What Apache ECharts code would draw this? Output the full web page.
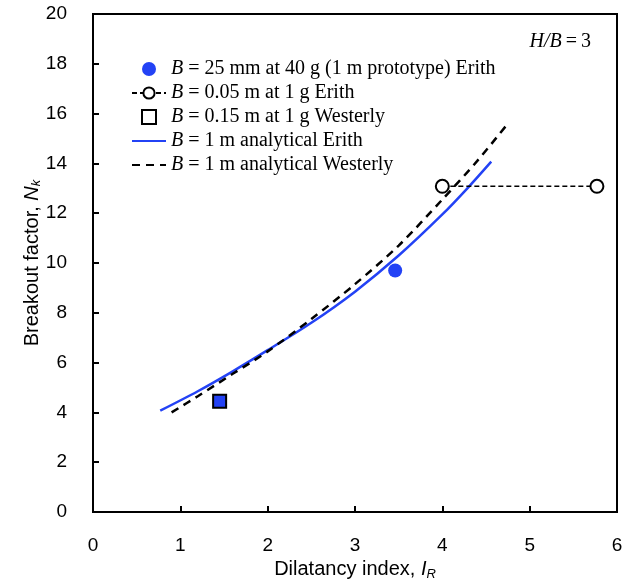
<!DOCTYPE html>
<html>
<head>
<meta charset="utf-8">
<script src="https://cdn.jsdelivr.net/npm/echarts@6/dist/echarts.min.js"></script>
<style>html,body{margin:0;padding:0;background:#fff;}#c{width:633px;height:580px;}</style>
</head>
<body>
<div id="c"></div>
<script>
// Data
const centrifugeErith = [[3.46, 9.7]];                 // B = 25 mm at 40 g (1 m prototype) Erith
const smallErith = [[4.0, 13.08], [5.77, 13.08]];      // B = 0.05 m at 1 g Erith
const westerly015 = [[1.45, 4.45]];                    // B = 0.15 m at 1 g Westerly
const analyticalErithX = [0.77, 1.2, 1.6, 2.0, 2.5, 3.0, 3.5, 4.0, 4.3, 4.56];
const analyticalErithY = [4.07, 4.85, 5.65, 6.5, 7.6, 8.85, 10.3, 11.95, 13.05, 14.07];
const analyticalWestX = [0.9, 1.2, 1.6, 2.0, 2.5, 3.0, 3.5, 4.0, 4.4, 4.75];
const analyticalWestY = [4.0, 4.65, 5.55, 6.45, 7.75, 9.15, 10.7, 12.55, 14.1, 15.6];
const xTicks = [0, 1, 2, 3, 4, 5, 6];
const yTicks = [0, 2, 4, 6, 8, 10, 12, 14, 16, 18, 20];
const legendLabels = {
  s1: ' = 25 mm at 40 g (1 m prototype) Erith',
  s2: ' = 0.05 m at 1 g Erith',
  s3: ' = 0.15 m at 1 g Westerly',
  s4: ' = 1 m analytical Erith',
  s5: ' = 1 m analytical Westerly'
};

const BLUE = '#2342f5';
const zip = (xs, ys) => xs.map((x, i) => [x, ys[i]]);
const chart = echarts.init(document.getElementById('c'));
const serif = '"Liberation Serif", "DejaVu Serif", serif';
const sans = '"Liberation Sans", Arial, sans-serif';

chart.setOption({
  animation: false,
  backgroundColor: '#fff',
  grid: { left: 93, right: 16, top: 14, bottom: 68, show: true, borderColor: '#000', borderWidth: 2, containLabel: false, outerBoundsMode: 'none' },
  legend: {
    orient: 'vertical', left: 126, top: 54,
    itemWidth: 34, itemHeight: 14, itemGap: 4,
    data: [
      { name: 's1' },
      { name: 's2' },
      { name: 's3', icon: 'path://M0,0L10,0L10,10L0,10Z', itemStyle: { color: '#fff', borderColor: '#000', borderWidth: 2 } },
      { name: 's4', itemStyle: { opacity: 0 } },
      { name: 's5', itemStyle: { opacity: 0 } }
    ],
    formatter: n => '{i|B}{n|' + legendLabels[n] + '}',
    textStyle: {
      fontFamily: serif, fontSize: 20, color: '#000', lineHeight: 20,
      rich: {
        i: { fontFamily: serif, fontSize: 20, fontStyle: 'italic', color: '#000' },
        n: { fontFamily: serif, fontSize: 20, color: '#000' }
      }
    }
  },
  xAxis: {
    type: 'value', min: 0, max: 6, interval: 1,
    name: '{n|Dilatancy index, }{i|I}{s|R}',
    nameLocation: 'middle', nameGap: 44,
    nameTextStyle: {
      rich: {
        n: { fontFamily: sans, fontSize: 20, color: '#000' },
        i: { fontFamily: sans, fontSize: 20, fontStyle: 'italic', color: '#000' },
        s: { fontFamily: sans, fontSize: 13, fontStyle: 'italic', color: '#000', verticalAlign: 'bottom', padding: [9, 0, 0, 0] }
      }
    },
    axisLine: { lineStyle: { color: '#000', width: 2 } },
    axisTick: { inside: true, length: 6, lineStyle: { color: '#000', width: 2 } },
    axisLabel: { fontFamily: sans, fontSize: 19, color: '#000', margin: 24, formatter: v => xTicks.includes(v) ? String(v) : '' },
    splitLine: { show: false }
  },
  yAxis: {
    type: 'value', min: 0, max: 20, interval: 2,
    name: '{n|Breakout factor, }{i|N}{s|k}',
    nameLocation: 'middle', nameGap: 50, nameRotate: 90, nameMoveOverlap: false,
    nameTextStyle: {
      rich: {
        n: { fontFamily: sans, fontSize: 20, color: '#000' },
        i: { fontFamily: sans, fontSize: 20, fontStyle: 'italic', color: '#000' },
        s: { fontFamily: sans, fontSize: 13, fontStyle: 'italic', color: '#000', verticalAlign: 'bottom', padding: [9, 0, 0, 0] }
      }
    },
    axisLine: { lineStyle: { color: '#000', width: 2 } },
    axisTick: { inside: true, length: 6, lineStyle: { color: '#000', width: 2 } },
    axisLabel: { fontFamily: sans, fontSize: 19, color: '#000', margin: 26, formatter: v => yTicks.includes(v) ? String(v) : '' },
    splitLine: { show: false }
  },
  graphic: [{
    type: 'text', right: 42, top: 32,
    style: {
      text: '{i|H/B}{n|\u2009=\u20093}',
      rich: {
        i: { fontFamily: serif, fontSize: 20, fontStyle: 'italic', fill: '#000' },
        n: { fontFamily: serif, fontSize: 20, fill: '#000' }
      }
    }
  }],
  series: [
    {
      name: 's4', type: 'line', data: zip(analyticalErithX, analyticalErithY),
      smooth: 0.3, symbol: 'none', z: 2,
      lineStyle: { color: BLUE, width: 2.5 }, itemStyle: { color: BLUE }
    },
    {
      name: 's5', type: 'line', data: zip(analyticalWestX, analyticalWestY),
      smooth: 0.3, symbol: 'none', z: 2,
      lineStyle: { color: '#000', width: 2.5, type: [8, 6] }, itemStyle: { color: '#000' }
    },
    {
      name: 's2', type: 'line', data: smallErith, z: 3,
      symbol: 'circle', symbolSize: 13, showSymbol: true,
      lineStyle: { color: '#000', width: 1.5, type: [5, 3] },
      itemStyle: { color: '#fff', borderColor: '#000', borderWidth: 2 }
    },
    {
      name: 's1', type: 'scatter', data: centrifugeErith, z: 4,
      symbol: 'circle', symbolSize: 14, itemStyle: { color: BLUE, opacity: 1 }
    },
    {
      name: 's3', type: 'scatter', data: westerly015, z: 4,
      symbol: 'rect', symbolSize: 13,
      itemStyle: { color: BLUE, borderColor: '#000', borderWidth: 2, opacity: 1 }
    }
  ]
});
</script>
</body>
</html>
